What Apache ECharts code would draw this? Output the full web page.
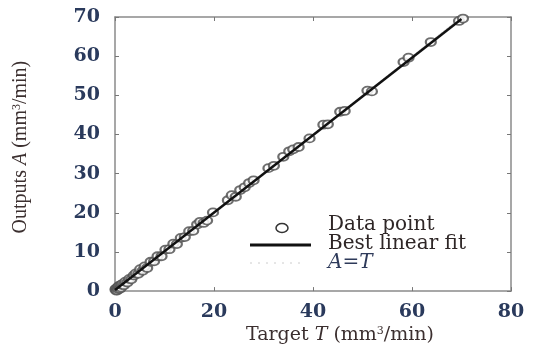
<!DOCTYPE html>
<html>
<head>
<meta charset="utf-8">
<script src="https://cdn.jsdelivr.net/npm/echarts@6/dist/echarts.min.js"></script>
<style>
  html, body { margin: 0; padding: 0; background: #fff; }
  #chart { width: 543px; height: 350px; }
</style>
</head>
<body>
<div id="chart"></div>
<script>
// target values T (mm3/min)
var targets = [0.1, 0.2, 0.3, 0.4, 0.5, 0.6, 0.7, 0.8, 0.9, 1.0, 1.2, 1.3, 1.5, 1.8, 2.1, 2.5, 2.9, 3.3, 3.8, 4.2,
    4.7, 5.1, 5.6, 6.0, 6.5, 7.2, 7.9, 8.6, 9.4, 10.2, 11.0, 11.8, 12.5, 13.3, 14.1, 15.0, 15.8, 16.6, 17.2,
    17.9, 18.6, 19.8, 22.8, 23.6, 24.4, 25.3, 26.2, 27.1, 28.0, 31.0, 32.1, 34.0, 35.2, 36.0, 37.1, 39.3,
    42.1, 43.0, 45.5, 46.4, 51.0, 51.9, 58.3, 59.3, 63.8, 69.5, 70.3];
// network outputs A (mm3/min)
var outputs = [0.4, 0.6, 0.1, 0.2, 0.8, 1.0, 0.5, 1.3, 1.2, 0.6, 0.9, 1.6, 1.8, 1.5, 2.4, 2.2, 3.1, 3.0, 4.0, 4.5,
    4.4, 5.6, 5.2, 6.3, 5.9, 7.5, 7.6, 8.9, 8.9, 10.6, 10.7, 12.1, 12.0, 13.6, 13.8, 15.3, 15.4, 17.0, 17.7,
    17.4, 18.0, 20.1, 23.2, 24.5, 24.1, 25.8, 26.5, 27.6, 28.3, 31.4, 32.0, 34.3, 35.7, 36.2, 36.8, 39.0,
    42.5, 42.6, 45.8, 46.0, 51.2, 51.0, 58.5, 59.6, 63.6, 69.0, 69.6];
var fitLine = [[0, 0.3], [70, 69.5]];
var idealLine = [[0, 0], [70, 70]];
var xTicks = [0, 20, 40, 60, 80];
var yTicks = [0, 10, 20, 30, 40, 50, 60, 70];

var points = targets.map(function (t, i) { return [t, outputs[i]]; });

var serif = 'Liberation Serif';
var wide = 'DejaVu Serif';
var tickColor = '#2a3a5c';
var titleColor = '#3b2f2f';

function rich(font, size) {
    return {
        n: { fontFamily: font, fontSize: size, color: titleColor },
        i: { fontFamily: font, fontSize: size, color: titleColor, fontStyle: 'italic' },
        s: { fontFamily: font, fontSize: Math.round(size * 0.6), color: titleColor, verticalAlign: 'top', padding: [0, 0, 8, 0] }
    };
}

var axisLine = { show: true, onZero: false, lineStyle: { color: '#8a8a8a', width: 1.5 } };
var axisTick = { show: true, inside: true, length: 4, lineStyle: { color: '#777' } };

var myChart = echarts.init(document.getElementById('chart'));
myChart.setOption({
    backgroundColor: '#fff',
    animation: false,
    grid: { left: 115, right: 32, top: 17, bottom: 53 },
    xAxis: [{
        type: 'value',
        min: 0, max: 80, interval: 20,
        axisLine: axisLine,
        axisTick: axisTick,
        splitLine: { show: false },
        axisLabel: {
            fontFamily: wide, fontSize: 19, fontWeight: 'bold', color: tickColor, margin: 11,
            formatter: function (v) { return xTicks.indexOf(v) >= 0 ? v : ''; }
        },
        name: '{n|Target }{i|T}{n| (mm}{s|3}{n|/min)}',
        nameLocation: 'middle',
        nameGap: 34,
        nameTextStyle: { rich: rich(wide, 19), padding: [0, 0, 0, 54] }
    }, {
        type: 'value', position: 'top',
        min: 0, max: 80, interval: 20,
        axisLine: axisLine,
        axisTick: axisTick,
        axisLabel: { show: false },
        splitLine: { show: false }
    }],
    yAxis: [{
        type: 'value',
        min: 0, max: 70, interval: 10,
        axisLine: axisLine,
        axisTick: axisTick,
        splitLine: { show: false },
        axisLabel: {
            fontFamily: wide, fontSize: 19, fontWeight: 'bold', color: tickColor, margin: 15,
            formatter: function (v) { return yTicks.indexOf(v) >= 0 ? v : ''; }
        },
        name: '{n|Outputs }{i|A}{n| (mm}{s|3}{n|/min)}',
        nameLocation: 'middle',
        nameGap: 84,
        nameTextStyle: { rich: rich(serif, 20), padding: [0, 0, 0, 14] }
    }, {
        type: 'value', position: 'right',
        min: 0, max: 70, interval: 10,
        axisLine: axisLine,
        axisTick: axisTick,
        axisLabel: { show: false },
        splitLine: { show: false }
    }],
    series: [{
        name: 'A=T',
        type: 'line',
        data: idealLine,
        symbol: 'none',
        lineStyle: { color: '#bbb', width: 1, type: 'dotted' },
        z: 1
    }, {
        name: 'Data point',
        type: 'scatter',
        data: points,
        symbol: 'emptyCircle',
        symbolSize: [10, 8],
        itemStyle: { color: '#555', borderColor: '#555', borderWidth: 1.2, opacity: 0.85 },
        z: 2
    }, {
        name: 'Best linear fit',
        type: 'line',
        data: fitLine,
        symbol: 'none',
        lineStyle: { color: '#111', width: 2.5 },
        z: 3
    }],
    graphic: [
        { type: 'ellipse', shape: { cx: 282, cy: 228, rx: 6, ry: 4.5 }, style: { fill: 'none', stroke: '#333', lineWidth: 1.5 } },
        { type: 'line', shape: { x1: 250, y1: 245, x2: 311, y2: 245 }, style: { stroke: '#111', lineWidth: 3 } },
        { type: 'line', shape: { x1: 250, y1: 263, x2: 306, y2: 263 }, style: { stroke: '#ccc', lineWidth: 1, lineDash: [2, 6] } },
        { type: 'text', x: 328, y: 225, style: { text: 'Data point', font: '20px "DejaVu Serif"', fill: '#2e2626', verticalAlign: 'middle' } },
        { type: 'text', x: 328, y: 244, style: { text: 'Best linear fit', font: '20px "DejaVu Serif"', fill: '#2e2626', verticalAlign: 'middle' } },
        { type: 'text', x: 328, y: 263, style: { text: 'A=T', font: 'italic 20px "DejaVu Serif"', fill: '#2e3a5a', verticalAlign: 'middle' } }
    ]
});
</script>
</body>
</html>
